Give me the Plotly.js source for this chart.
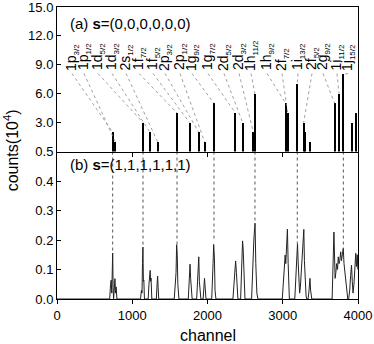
<!DOCTYPE html>
<html>
<head>
<meta charset="utf-8">
<script src="https://cdn.plot.ly/plotly-3.0.1.min.js"></script>
<style>
  html, body { margin: 0; padding: 0; background: #fff; }
  #chart { width: 374px; height: 344px; }
</style>
</head>
<body>
<div id="chart"></div>
<script>
// labelled levels: name, where the label sits, bar channel, bar height (10^4)
const levelMain = ['1p', '1p', '1d', '1d', '2s', '1f', '1f', '2p', '2p', '1g', '1g',
  '2d', '2d', '1h', '1h', '2f', '1i', '2f', '2g', '1i', '1j'];
const levelSub = ['3/2', '1/2', '5/2', '3/2', '1/2', '7/2', '5/2', '3/2', '1/2', '9/2', '7/2',
  '5/2', '3/2', '11/2', '9/2', '7/2', '13/2', '5/2', '9/2', '11/2', '15/2'];
const labelCh = [199, 359, 545, 731, 917, 1090, 1276, 1435, 1635, 1794, 2007,
  2219, 2419, 2578, 2791, 2990, 3203, 3389, 3535, 3721, 3867];
const levelCh = [740, 775, 1143, 1236, 1338, 1595, 1763, 1883, 1962, 2086, 2370,
  2467, 2609, 2631, 3039, 3066, 3193, 3278, 3690, 3748, 3805];
const levelH = [2, 1, 3, 2, 1, 4, 3, 2, 1, 5, 4, 3, 2, 6, 5, 4, 7, 3, 5, 6, 8];

// bars without a label
const extraCh = [3295, 3362, 3916, 3973];
const extraH = [2, 1, 3, 4];

// spectrum for s=(1,1,1,1,1,1)
const specX = [0, 700, 712, 720, 728, 734, 740, 746, 752, 760, 770, 778, 786, 796,
  1110, 1122, 1130, 1136, 1142, 1148, 1154, 1162,
  1212, 1222, 1232, 1238, 1244, 1250, 1260,
  1320, 1330, 1337, 1344, 1352,
  1558, 1566, 1574, 1582, 1590, 1598, 1606, 1620,
  1745, 1755, 1762, 1768, 1776, 1786, 1796,
  1856, 1866, 1876, 1884, 1892, 1902, 1912,
  1942, 1952, 1960, 1966, 1980,
  2056, 2066, 2074, 2082, 2092, 2100, 2112,
  2338, 2348, 2356, 2364, 2374, 2384, 2394, 2404,
  2440, 2450, 2458, 2466, 2474, 2484, 2498,
  2586, 2596, 2606, 2616, 2626, 2632, 2642, 2656, 2670,
  2994, 3004, 3014, 3024, 3032, 3040, 3050, 3062, 3072, 3080, 3088,
  3160, 3170, 3180, 3188, 3196, 3204, 3214, 3224, 3234, 3246, 3258, 3270, 3280, 3288, 3298, 3310, 3320,
  3336, 3346, 3356, 3362, 3370, 3386,
  3656, 3664, 3672, 3680, 3688, 3696, 3706, 3716, 3728, 3738, 3748, 3758, 3770, 3780, 3792, 3804,
  3814, 3826, 3840, 3852, 3864, 3876, 3890, 3902, 3914, 3924, 3934, 3946, 3958, 3970, 3980, 3990, 3998];
const specY = [0, 0, 0.05, 0.064, 0.02, 0.08, 0.156, 0.04, 0, 0.03, 0.069, 0.02, 0.041, 0,
  0, 0.03, 0.02, 0.12, 0.176, 0.06, 0.064, 0,
  0, 0.05, 0.09, 0.097, 0.06, 0.071, 0,
  0, 0.05, 0.078, 0.04, 0,
  0, 0.04, 0.075, 0.09, 0.184, 0.15, 0.05, 0,
  0, 0.05, 0.11, 0.118, 0.07, 0.02, 0,
  0, 0.04, 0.1, 0.143, 0.06, 0.02, 0,
  0, 0.04, 0.07, 0.05, 0,
  0, 0.05, 0.12, 0.185, 0.14, 0.03, 0,
  0, 0.04, 0.08, 0.1, 0.129, 0.09, 0.03, 0,
  0, 0.06, 0.15, 0.197, 0.17, 0.05, 0,
  0, 0.08, 0.17, 0.2, 0.24, 0.257, 0.12, 0.02, 0,
  0, 0.04, 0.1, 0.13, 0.149, 0.12, 0.16, 0.237, 0.12, 0.03, 0,
  0, 0.05, 0.12, 0.15, 0.187, 0.13, 0.06, 0.02, 0.04, 0.1, 0.15, 0.2, 0.236, 0.13, 0.06, 0.01, 0,
  0, 0.02, 0.05, 0.07, 0.03, 0,
  0, 0.05, 0.15, 0.227, 0.12, 0.07, 0.09, 0.12, 0.1, 0.143, 0.12, 0.13, 0.16, 0.13, 0.15, 0.172,
  0.12, 0.09, 0.05, 0.03, 0, 0, 0.03, 0.08, 0.115, 0.06, 0.02, 0.05, 0.1, 0.155, 0.11, 0.15, 0.1];

// dotted drops into panel (b)
const dropCh = [740, 1143, 1595, 2086, 2631, 3193, 3805];
const dropTop = [0.156, 0.176, 0.184, 0.2, 0.257, 0.187, 0.172];

const fontFam = 'Arial, "Liberation Sans", sans-serif';
const xMax = 4000;
const topDom = [0.505, 1];
const topMax = 15;
const labelBase = 8.2;

// leader lines from label to bar top
let leadX = [], leadY = [];
for (let i = 0; i < levelCh.length; i++) {
  leadX.push(labelCh[i], levelCh[i], null);
  leadY.push(8.1, levelH[i], null);
}
let dropX = [], dropY = [];
for (let i = 0; i < dropCh.length; i++) {
  dropX.push(dropCh[i], dropCh[i], null);
  dropY.push(0.5, dropTop[i], null);
}

const traces = [
  {
    x: levelCh.concat(extraCh), y: levelH.concat(extraH),
    type: 'bar', width: 24, xaxis: 'x2', yaxis: 'y2',
    marker: { color: '#000', line: { width: 0 } }, hoverinfo: 'skip'
  },
  {
    x: leadX, y: leadY, xaxis: 'x2', yaxis: 'y2', mode: 'lines',
    line: { color: '#888', width: 0.8, dash: 'dot' }, hoverinfo: 'skip'
  },
  {
    x: specX, y: specY, xaxis: 'x', yaxis: 'y', mode: 'lines',
    line: { color: '#222', width: 1 }, hoverinfo: 'skip'
  },
  {
    x: dropX, y: dropY, xaxis: 'x', yaxis: 'y', mode: 'lines',
    line: { color: '#555', width: 1, dash: 'dot' }, hoverinfo: 'skip'
  }
];

// level labels, turned to read upward (placed in paper units of the top panel)
const annotations = levelMain.map((t, i) => ({
  text: t + '<sub><span style="font-size:8px">' + levelSub[i] + '</span></sub>',
  x: labelCh[i] / xMax, y: topDom[0] + (topDom[1] - topDom[0]) * labelBase / topMax,
  xref: 'paper', yref: 'paper', xanchor: 'center', yanchor: 'bottom',
  textangle: -90, showarrow: false,
  font: { family: fontFam, size: 14, color: '#000' }
}));
annotations.push(
  { text: '(a) <b>s</b>=(0,0,0,0,0,0)', x: 150, y: 13.3, xref: 'x2', yref: 'y2', xanchor: 'left',
    showarrow: false, font: { family: fontFam, size: 15, color: '#000' } },
  { text: '(b) <b>s</b>=(1,1,1,1,1,1)', x: 150, y: 0.455, xref: 'x', yref: 'y', xanchor: 'left',
    showarrow: false, font: { family: fontFam, size: 15, color: '#000' } },
  { text: 'counts(10<sup>4</sup>)', x: -0.152, y: 0.51, xref: 'paper', yref: 'paper',
    xanchor: 'center', yanchor: 'middle',
    textangle: -90, showarrow: false, font: { family: fontFam, size: 16, color: '#000' } },
  { text: 'channel', x: 0.5, y: -0.126, xref: 'paper', yref: 'paper',
    xanchor: 'center', yanchor: 'middle',
    showarrow: false, font: { family: fontFam, size: 16, color: '#000' } }
);

const axisCommon = {
  showline: true, linecolor: '#000', linewidth: 1, showgrid: false, zeroline: false,
  tickcolor: '#000', tickfont: { family: fontFam, size: 13, color: '#000' }
};

const layout = {
  width: 374, height: 344,
  margin: { l: 57, r: 16, t: 7, b: 45 },
  paper_bgcolor: '#fff', plot_bgcolor: '#fff',
  showlegend: false, bargap: 0,
  xaxis: Object.assign({}, axisCommon, {
    anchor: 'y', range: [0, xMax], tickvals: [0, 1000, 2000, 3000, 4000],
    ticks: 'outside', ticklen: 4
  }),
  xaxis2: Object.assign({}, axisCommon, {
    anchor: 'y2', matches: 'x', range: [0, xMax], tickvals: [1000, 2000, 3000],
    ticks: 'outside', ticklen: 4, showticklabels: false, mirror: true
  }),
  yaxis: Object.assign({}, axisCommon, {
    domain: [0, topDom[0]], range: [0, 0.5], tickvals: [0, 0.1, 0.2, 0.3, 0.4, 0.5],
    ticktext: ['0.0', '0.1', '0.2', '0.3', '0.4', '0.5'],
    ticks: 'inside', ticklen: 4, mirror: true, ticklabeloverflow: 'allow'
  }),
  yaxis2: Object.assign({}, axisCommon, {
    domain: topDom, range: [0, topMax], tickvals: [3, 6, 9, 12, 15],
    ticktext: ['3.0', '6.0', '9.0', '12.0', '15.0'],
    ticks: 'inside', ticklen: 4, mirror: true, ticklabeloverflow: 'allow'
  }),
  annotations: annotations
};

Plotly.newPlot('chart', traces, layout, { displayModeBar: false, staticPlot: true });
</script>
</body>
</html>
